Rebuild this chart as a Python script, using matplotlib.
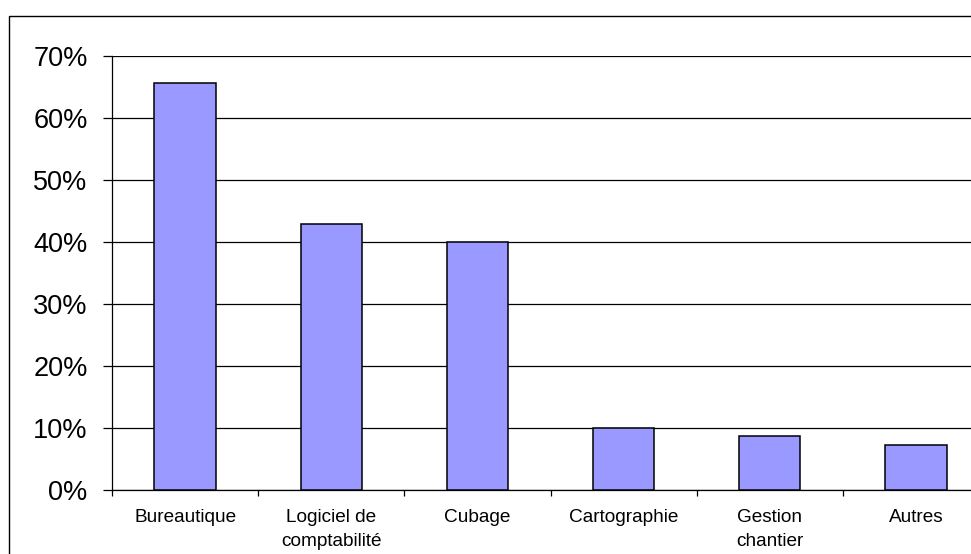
import numpy as np
import matplotlib.pyplot as plt
from matplotlib.patches import Rectangle

categories = ["Bureautique", "Logiciel de\ncomptabilité", "Cubage",
              "Cartographie", "Gestion\nchantier", "Autres"]
values = [65.7, 42.9, 40.0, 10.0, 8.7, 7.3]
yticks = [0, 10, 20, 30, 40, 50, 60, 70]

plt.rcParams['font.family'] = ['Liberation Sans', 'DejaVu Sans']

fig = plt.figure(figsize=(9.71, 5.54), dpi=100)
W, H = 971, 554

# outer chart border (cropped on right/bottom in the reference)
fig.patches.append(Rectangle((8.5 / W, -0.2), 1.5, 1.2 - 15.5 / H,
                             transform=fig.transFigure, fill=False,
                             edgecolor='black', linewidth=1.0))

ax = fig.add_axes([112 / W, (H - 490) / H, 877 / W, 434 / H])
x = np.arange(len(categories))
ax.bar(x, values, width=0.42, color='#9999FF', edgecolor='black',
       linewidth=1.1, zorder=3)

ax.set_xlim(-0.5, len(categories) - 0.5)
ax.set_ylim(0, 70)
ax.set_yticks(yticks)
ax.set_yticklabels([f"{t}%" for t in yticks], fontsize=19.5)
ax.yaxis.grid(True, color='black', linewidth=0.9, zorder=0)

ax.set_xticks(x)
ax.set_xticklabels(categories, fontsize=13.7, linespacing=1.5)
ax.set_xticks(np.arange(-0.5, len(categories)), minor=True)
ax.tick_params(axis='x', which='major', length=0, pad=14)
ax.tick_params(axis='x', which='minor', length=4, width=0.9, direction='out')
ax.tick_params(axis='y', length=6.5, width=0.9, pad=11, direction='out')

for s in ['top', 'right']:
    ax.spines[s].set_visible(False)
ax.spines['left'].set_linewidth(0.9)
ax.spines['bottom'].set_linewidth(0.9)
ax.set_axisbelow(True)

fig.savefig("out.png", dpi=100)
